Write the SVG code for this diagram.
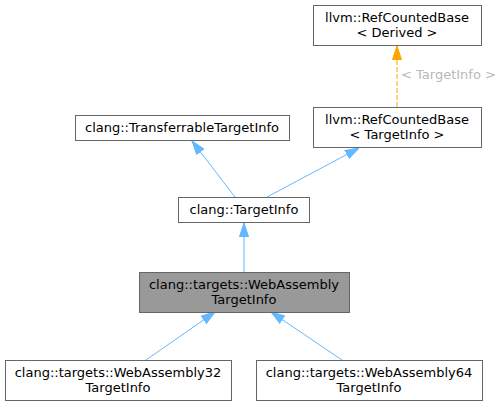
<svg xmlns="http://www.w3.org/2000/svg" width="503" height="407" viewBox="0 0 503 407">
<defs>
<marker id="ab" markerWidth="14" markerHeight="10" refX="14" refY="5" orient="auto" markerUnits="userSpaceOnUse" viewBox="0 0 14 10">
<path d="M0.5,0.5 L14,5 L0.5,9.5 z" fill="#63b8ff" stroke="#63b8ff"/>
</marker>
<marker id="ao" markerWidth="14" markerHeight="10" refX="14" refY="5" orient="auto" markerUnits="userSpaceOnUse" viewBox="0 0 14 10">
<path d="M0.5,0.5 L14,5 L0.5,9.5 z" fill="orange" stroke="orange"/>
</marker>
</defs>
<style>
.n rect{fill:#fff;stroke:#666;stroke-width:1}
.n.h rect{fill:#999}
text{font-family:"DejaVu Sans",sans-serif;font-size:13px;text-anchor:middle;fill:#000}
.e{fill:none;stroke:#63b8ff;stroke-width:1;marker-end:url(#ab)}
.eo{fill:none;stroke:orange;stroke-width:1;stroke-dasharray:5,2;marker-end:url(#ao)}
.lbl{fill:#b8b8b8;text-anchor:start}
</style>
<rect width="503" height="407" fill="#fff"/>
<g id="connectors">
<path class="eo" d="M397,107 L397,46"/>
<text class="lbl" x="401" y="79">&lt; TargetInfo &gt;</text>
<path class="e" d="M235,197 L192,141"/>
<path class="e" d="M267,197 L359,148"/>
<path class="e" d="M244,272 L244,223"/>
<path class="e" d="M146,360 L215,312"/>
<path class="e" d="M342,360 L271,312"/>
</g>
<g id="rcb_derived" class="n"><rect x="313.5" y="5.5" width="168" height="40"/><text x="397" y="22">llvm::RefCountedBase</text><text x="397" y="37">&lt; Derived &gt;</text></g>
<g id="rcb_targetinfo" class="n"><rect x="313.5" y="107.5" width="168" height="40"/><text x="397" y="124">llvm::RefCountedBase</text><text x="397" y="139">&lt; TargetInfo &gt;</text></g>
<g id="transferrable" class="n"><rect x="75.5" y="115.5" width="214" height="25"/><text x="182" y="132">clang::TransferrableTargetInfo</text></g>
<g id="targetinfo" class="n"><rect x="178.5" y="197.5" width="131" height="25"/><text x="244" y="214">clang::TargetInfo</text></g>
<g id="wasm" class="n h"><rect x="139.5" y="272.5" width="210" height="40"/><text x="244" y="289">clang::targets::WebAssembly</text><text x="244" y="304">TargetInfo</text></g>
<g id="wasm32" class="n"><rect x="5.5" y="360.5" width="226" height="40"/><text x="118" y="377">clang::targets::WebAssembly32</text><text x="118" y="392">TargetInfo</text></g>
<g id="wasm64" class="n"><rect x="256.5" y="360.5" width="226" height="40"/><text x="369" y="377">clang::targets::WebAssembly64</text><text x="369" y="392">TargetInfo</text></g>
</svg>
